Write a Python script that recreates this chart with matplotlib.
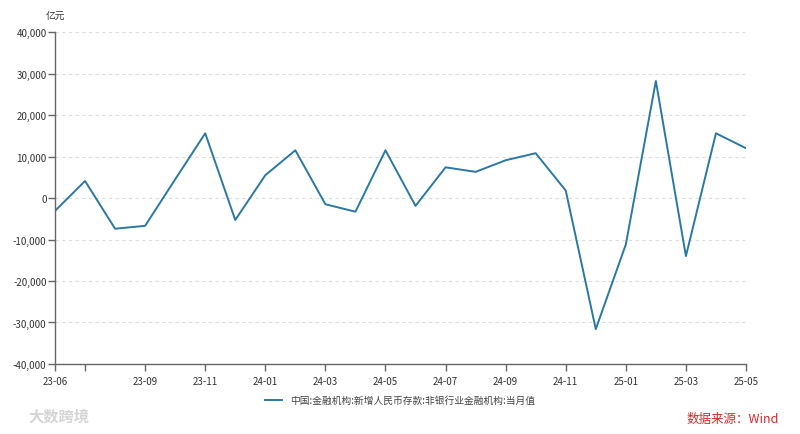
import matplotlib.pyplot as plt
from matplotlib.ticker import FuncFormatter

plt.rcParams['font.family'] = ['Noto Sans CJK SC', 'DejaVu Sans']

months = ["23-06", "23-07", "23-08", "23-09", "23-10", "23-11", "23-12",
          "24-01", "24-02", "24-03", "24-04", "24-05", "24-06", "24-07",
          "24-08", "24-09", "24-10", "24-11", "24-12", "25-01", "25-02",
          "25-03", "25-04", "25-05"]
values = [-3100, 4100, -7400, -6700, 4500, 15600, -5300, 5500, 11500, -1500,
          -3300, 11500, -1900, 7400, 6300, 9100, 10800, 1800, -31600, -11200,
          28200, -14000, 15600, 12000]
series_name = "中国:金融机构:新增人民币存款:非银行业金融机构:当月值"

# ticks at start and every odd month; 23-07 label hidden like the original
tick_idx = [0, 1, 3, 5, 7, 9, 11, 13, 15, 17, 19, 21, 23]
tick_lbl = [months[i] if i != 1 else "" for i in tick_idx]

fig = plt.figure(figsize=(8, 4.35), dpi=100)
ax = fig.add_axes([0.06875, 0.161, 0.86375, 0.763])

line_color = "#2a78a3"
ax.plot(range(len(months)), values, color=line_color, linewidth=1.4,
        label=series_name)

ax.set_xlim(0, len(months) - 1)
ax.set_ylim(-40000, 40000)
ax.set_yticks(range(-40000, 40001, 10000))
ax.yaxis.set_major_formatter(FuncFormatter(lambda v, p: f"{int(v):,}"))
ax.set_xticks(tick_idx)
ax.set_xticklabels(tick_lbl)

ax.grid(axis="y", linestyle=(0, (3, 3)), color="#dddddd", linewidth=0.8)
ax.set_axisbelow(True)
for s in ["top", "right"]:
    ax.spines[s].set_visible(False)
for s in ["left", "bottom"]:
    ax.spines[s].set_color("#666666")
    ax.spines[s].set_linewidth(1)
ax.tick_params(axis="both", colors="#666666", labelcolor="#333333",
               labelsize=7, length=5, width=1)
ax.tick_params(axis="x", pad=4)
ax.tick_params(axis="y", pad=1)

fig.text(0.069, 0.955, "亿元", fontsize=7, color="#333333", ha="center")

leg = fig.legend(loc="center", bbox_to_anchor=(0.5, 0.078), frameon=False,
                 fontsize=7, handlelength=1.8, labelcolor="#444444")

fig.text(0.973, 0.027, "数据来源：Wind", fontsize=9, color="#d9262c", ha="right")
fig.text(0.035, 0.03, "大数跨境", fontsize=11, color="#d5d5d5", ha="left",
         fontweight="bold")

fig.savefig("out.png", dpi=100)
